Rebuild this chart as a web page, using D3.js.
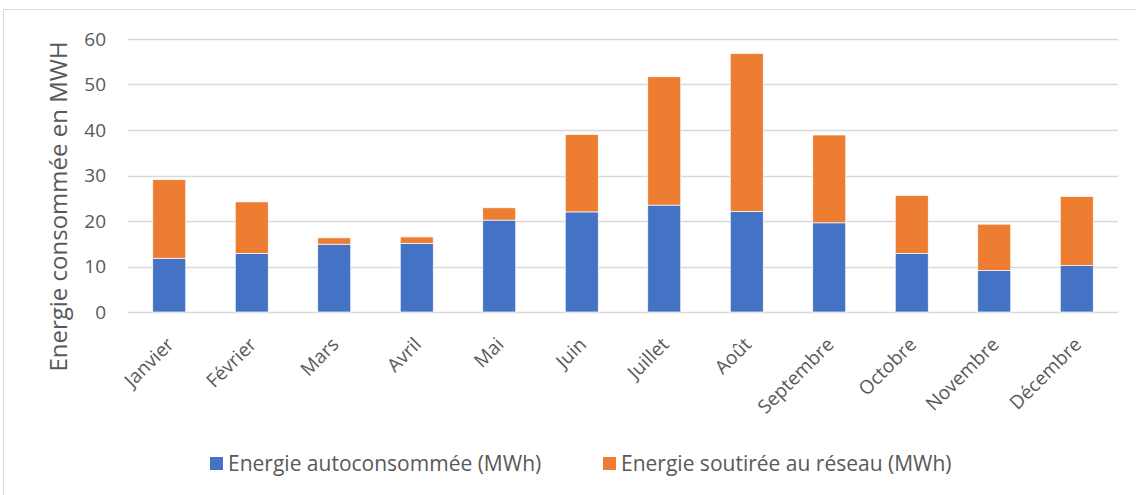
<!DOCTYPE html>
<html>
<head>
<meta charset="utf-8">
<script src="https://cdn.jsdelivr.net/npm/d3@7"></script>
<style>
  body { margin: 0; background: #fff; }
  text { font-family: "Open Sans", sans-serif; fill: #595959; }
</style>
</head>
<body>
<svg width="1136" height="495"></svg>
<script>
const mois = ["Janvier", "Février", "Mars", "Avril", "Mai", "Juin", "Juillet", "Août",
              "Septembre", "Octobre", "Novembre", "Décembre"];
const autoconso = [11.8, 12.9, 14.9, 15.1, 20.2, 22.0, 23.5, 22.1, 19.6, 12.9, 9.1, 10.2];
const soutiree = [17.3, 11.3, 1.4, 1.4, 2.7, 17.0, 28.2, 34.7, 19.3, 12.7, 10.2, 15.2];
const series = ["Energie autoconsommée (MWh)", "Energie soutirée au réseau (MWh)"];
const couleurs = ["#4472c4", "#ed7d31"];
const yTicks = [0, 10, 20, 30, 40, 50, 60];

const svg = d3.select("svg"),
      width = +svg.attr("width"),
      height = +svg.attr("height");

// cadre du graphique
svg.append("rect")
  .attr("x", 3.5).attr("y", 9.5)
  .attr("width", width + 10).attr("height", height + 10)
  .attr("fill", "none").attr("stroke", "#d9d9d9");

const margin = { left: 128, right: 18, top: 39, bottom: 183 };

const x = d3.scaleBand()
  .domain(mois)
  .range([margin.left, width - margin.right])
  .paddingInner(0.6).paddingOuter(0.3);

const y = d3.scaleLinear()
  .domain([0, 60])
  .range([height - margin.bottom, margin.top]);

// grille
svg.append("g")
  .selectAll("line")
  .data(yTicks)
  .enter().append("line")
  .attr("x1", margin.left).attr("x2", width - margin.right)
  .attr("y1", d => Math.round(y(d)) + 0.5).attr("y2", d => Math.round(y(d)) + 0.5)
  .attr("stroke", "#d9d9d9").attr("stroke-width", 1.3);

// graduations
svg.append("g")
  .selectAll("text")
  .data(yTicks)
  .enter().append("text")
  .attr("x", 106)
  .attr("y", d => y(d))
  .attr("dy", "0.35em")
  .attr("text-anchor", "end")
  .style("font-size", "19px")
  .text(d => d);

// titre de l'axe
svg.append("text")
  .attr("transform", `translate(67,${(y(0) + y(60)) / 2 + 31}) rotate(-90)`)
  .attr("text-anchor", "middle")
  .style("font-size", "24px")
  .text("Energie consommée en MWH");

const table = mois.map((m, i) => ({ mois: m, a: autoconso[i], s: soutiree[i] }));
const stack = d3.stack().keys(["a", "s"])(table);

svg.append("g")
  .selectAll("g")
  .data(stack)
  .enter().append("g")
  .attr("fill", (d, i) => couleurs[i])
  .selectAll("rect")
  .data(d => d)
  .enter().append("rect")
  .attr("x", d => x(d.data.mois))
  .attr("width", x.bandwidth())
  .attr("y", d => y(d[1]))
  .attr("height", d => y(d[0]) - y(d[1]))
  .attr("stroke", "#fff").attr("stroke-width", 0.7);

// mois
svg.append("g")
  .selectAll("text")
  .data(mois)
  .enter().append("text")
  .attr("transform", d => `translate(${x(d) + x.bandwidth() / 2 + 1},${y(0) + 29}) rotate(-45)`)
  .attr("text-anchor", "end")
  .attr("dy", "0.35em")
  .style("font-size", "19px")
  .text(d => d);

// légende
const legendX = [210, 603];
const legend = svg.append("g")
  .selectAll("g")
  .data(series)
  .enter().append("g")
  .attr("transform", (d, i) => `translate(${legendX[i]},457)`);

legend.append("rect")
  .attr("width", 13).attr("height", 13)
  .attr("fill", (d, i) => couleurs[i]);

legend.append("text")
  .attr("x", 18).attr("y", 7)
  .attr("dy", "0.35em")
  .style("font-size", "21px")
  .text(d => d);
</script>
</body>
</html>
